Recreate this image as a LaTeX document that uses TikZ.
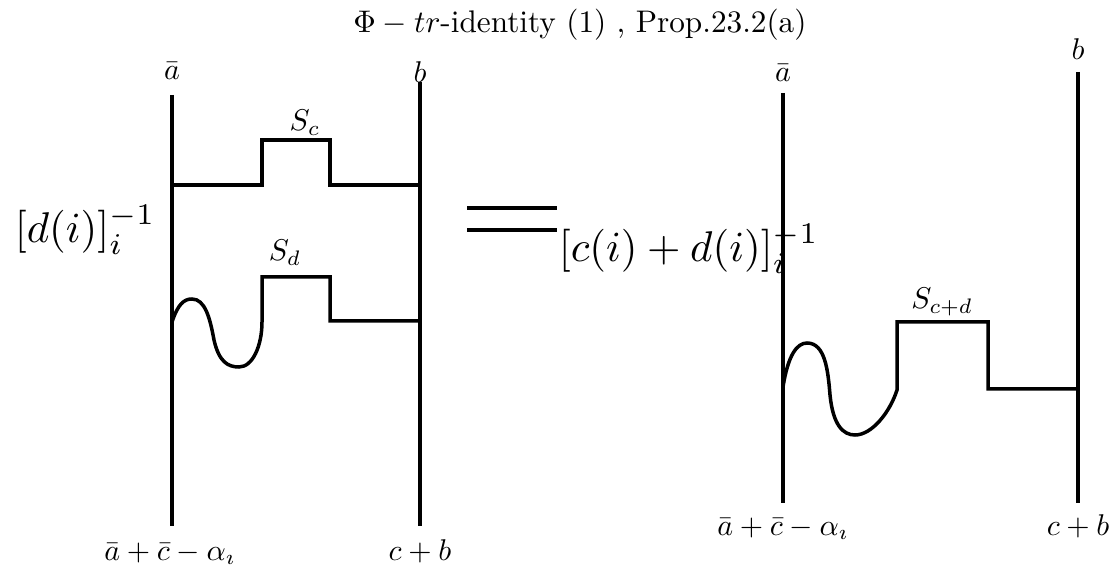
\documentclass[tikz,border=0pt]{standalone}
\tikzset{
  wire/.style={line width=1.4pt, line join=miter},
  lbl/.style={inner sep=0pt, anchor=base, scale=1.2},
  biglbl/.style={inner sep=0pt, anchor=base west, scale=1.72}
}
\begin{document}
\begin{tikzpicture}[x=0.4pt,y=-0.4pt]
\useasboundingbox (0,0) rectangle (1118,571);
% title
\node[inner sep=0pt, anchor=base, scale=1.25] (title) at (580,33) {$\Phi - tr$-identity (1) , Prop.23.2(a)};
% ---------- left diagram ----------
\node[lbl] (a1) at (172,80) {$\bar a$};
\node[lbl] (b1) at (420,83) {$b$};
\node[lbl] (a1b) at (170,560) {$\bar a+\bar c-\alpha_\imath$};
\node[lbl] (b1b) at (420,560) {$c+b$};
\coordinate (L1t) at (172,95);
\coordinate (L1b) at (172,526);
\coordinate (R1t) at (420,82);
\coordinate (R1b) at (420,526);
\draw[wire] (L1t) -- (L1b);
\draw[wire] (R1t) -- (R1b);
\draw[wire] (172,185) -- (262,185) -- (262,140) -- (330,140) -- (330,185) -- (420,185);
\node[lbl] (Sc) at (305,131) {$S_c$};
\draw[wire] (172,322) .. controls (178,304) and (184,299) .. (192,299)
  .. controls (205,299) and (210,318) .. (214,340)
  .. controls (219,362) and (228,367) .. (239,367)
  .. controls (253,367) and (262,345) .. (262,322)
  -- (262,277) -- (330,277) -- (330,321) -- (420,321);
\node[lbl] (Sd) at (285,261) {$S_d$};
\node[biglbl] (dl) at (14,243) {$[d(i)]_i^{-1}$};
% equals sign
\draw[wire] (467,208) -- (557,208);
\draw[wire] (467,230) -- (557,230);
\node[biglbl] (cl) at (558,262) {$[c(i)+d(i)]_i^{-1}$};
% ---------- right diagram ----------
\node[lbl] (a2) at (783,82) {$\bar a$};
\node[lbl] (b2) at (1078,60) {$b$};
\node[lbl] (a2b) at (783,535) {$\bar a+\bar c-\alpha_\imath$};
\node[lbl] (b2b) at (1078,535) {$c+b$};
\coordinate (L2t) at (783,93);
\coordinate (L2b) at (783,503);
\coordinate (R2t) at (1078,72);
\coordinate (R2b) at (1078,503);
\draw[wire] (L2t) -- (L2b);
\draw[wire] (R2t) -- (R2b);
\draw[wire] (783,387) .. controls (788,355) and (797,343) .. (807,343)
  .. controls (825,343) and (828,370) .. (830,395)
  .. controls (833,425) and (843,435) .. (855,435)
  .. controls (872,435) and (890,412) .. (897,390)
  -- (897,322) -- (988,322) -- (988,389) -- (1078,389);
\node[lbl] (Scd) at (942,309) {$S_{c+d}$};
\end{tikzpicture}
\end{document}
